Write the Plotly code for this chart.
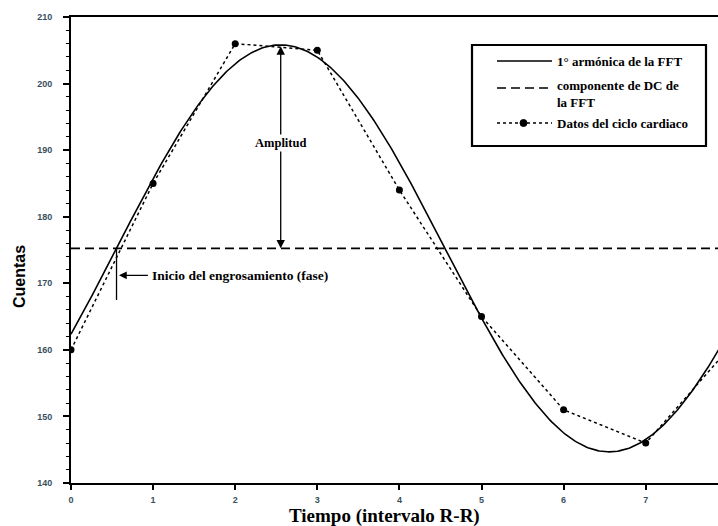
import numpy as np
import plotly.graph_objects as go

# Data of the cardiac cycle (frames of the R-R interval)
frame_x = [0, 1, 2, 3, 4, 5, 6, 7, 8]
counts = [160, 185, 206, 205, 184, 165, 151, 146, 160]

x_ticks = [0, 1, 2, 3, 4, 5, 6, 7]
y_ticks = [140, 150, 160, 170, 180, 190, 200, 210]

legend_names = ["1° armónica de la FFT", "componente de DC de<br>la FFT", "Datos del ciclo cardiaco"]

# First harmonic from the FFT of one cycle (8 frames)
cycle = np.array(counts[:8], dtype=float)
N = len(cycle)
spec = np.fft.fft(cycle)
dc = spec[0].real / N
amp = 2 * np.abs(spec[1]) / N
phi = np.angle(spec[1])
xs = np.linspace(0, 8, 400)
harm = dc + amp * np.cos(2 * np.pi * xs / N + phi)
peak_x = (-phi) * N / (2 * np.pi) % N
phase_x = peak_x - N / 4

W, H = 718, 526
L, T, B = 71, 17, 43
pw, ph = W - L, H - T - B


def px(x):
    return (x - L) / pw


def py(y):
    return (H - B - y) / ph


serif = "Liberation Serif"
fig = go.Figure()
fig.add_trace(go.Scatter(x=xs, y=harm, mode="lines", name=legend_names[0],
                         line=dict(color="black", width=1.6)))
fig.add_trace(go.Scatter(x=[0, 8], y=[dc, dc], mode="lines", name=legend_names[1],
                         line=dict(color="black", width=1.6, dash="9px,5px")))
fig.add_trace(go.Scatter(x=frame_x, y=counts, mode="lines+markers", name=legend_names[2],
                         line=dict(color="black", width=1.5, dash="dot"),
                         marker=dict(color="black", size=7)))

# Amplitude arrow
fig.add_annotation(x=peak_x, y=dc, ax=peak_x, ay=dc + amp, xref="x", yref="y",
                   axref="x", ayref="y", text="", showarrow=True, arrowhead=2,
                   arrowside="end+start", arrowsize=1.3, arrowwidth=1.3, arrowcolor="black")
fig.add_annotation(x=peak_x, y=191, xref="x", yref="y", text="<b>Amplitud</b>",
                   showarrow=False, bgcolor="white", font=dict(family=serif, size=12.5, color="black"))

# Phase marker
fig.add_shape(type="line", x0=phase_x, x1=phase_x, y0=dc, y1=167.5, xref="x", yref="y",
              line=dict(color="black", width=1.3))
fig.add_annotation(x=phase_x + 0.03, y=171.2, ax=phase_x + 0.40, ay=171.2, xref="x", yref="y",
                   axref="x", ayref="y", text="", showarrow=True, arrowhead=2, arrowsize=1.2,
                   arrowwidth=1.3, arrowcolor="black")
fig.add_annotation(x=phase_x + 0.41, y=171.2, xref="x", yref="y", xanchor="left",
                   text="<b>Inicio del engrosamiento (fase)</b>", showarrow=False,
                   font=dict(family=serif, size=13.5, color="black"))

# Axis titles
fig.add_annotation(x=px(384), y=py(516), xref="paper", yref="paper", xanchor="center",
                   yanchor="middle", text="<b>Tiempo (intervalo R-R)</b>",
                   showarrow=False, font=dict(family=serif, size=19, color="black"))
fig.add_annotation(x=px(19), y=py(277), xref="paper", yref="paper", xanchor="center",
                   yanchor="middle", text="<b>Cuentas</b>", textangle=-90, showarrow=False,
                   font=dict(family="Liberation Sans", size=16, color="black"))

# Legend (drawn box)
fig.add_shape(type="rect", xref="paper", yref="paper", x0=px(472), x1=px(706), y0=py(45), y1=py(146),
              line=dict(color="black", width=2.2), fillcolor="white", layer="above")
rows = [61, 88, 123]
styles = [dict(dash="solid"), dict(dash="9px,5px"), dict(dash="dot")]
for r, st in zip(rows, styles):
    fig.add_shape(type="line", xref="paper", yref="paper", x0=px(497), x1=px(552), y0=py(r), y1=py(r),
                  line=dict(color="black", width=1.6, **st), layer="above")
fig.add_shape(type="circle", xref="paper", yref="paper", x0=px(520), x1=px(527), y0=py(119.5), y1=py(126.5),
              line=dict(color="black", width=1), fillcolor="black", layer="above")
legend_y = [61, 94.5, 123]
for name, r in zip(legend_names, legend_y):
    fig.add_annotation(x=px(555), y=py(r), xref="paper", yref="paper", xanchor="left", yanchor="middle",
                       align="left", text="<b>" + name + "</b>", showarrow=False,
                       font=dict(family=serif, size=13, color="black"))

fig.update_layout(
    width=W, height=H, margin=dict(l=L, r=0, t=T, b=B),
    plot_bgcolor="white", paper_bgcolor="white",
    showlegend=False,
)
fig.update_xaxes(range=[0, (W - L) / 82.1], tickvals=x_ticks, ticks="outside", ticklen=5,
                 tickwidth=1.5, tickcolor="black", showline=True, linewidth=2, linecolor="black",
                 mirror=True, showgrid=False, zeroline=False, ticklabelstandoff=2,
                 tickfont=dict(family="Liberation Sans", size=9, color="#3a4f5e", weight="bold"))
fig.update_yaxes(range=[140, 210], tickvals=y_ticks, ticks="outside", ticklen=6,
                 tickwidth=1.5, tickcolor="black", showline=True, linewidth=2, linecolor="black",
                 showgrid=False, zeroline=False, ticklabelstandoff=9,
                 minor=dict(dtick=2, ticks="outside", ticklen=3, tickwidth=1.2, tickcolor="black"),
                 tickfont=dict(family="Liberation Sans", size=9, color="#3a4f5e", weight="bold"))

fig.write_html("out.html")
